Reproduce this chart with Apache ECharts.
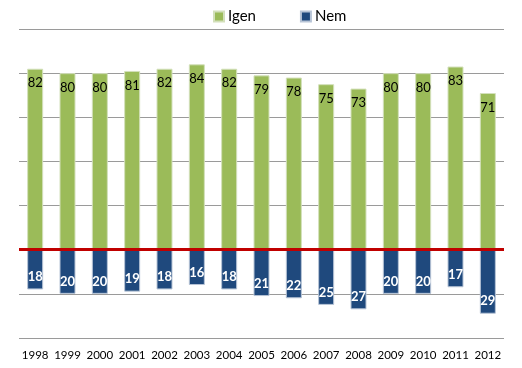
<!DOCTYPE html>
<html><head><meta charset="utf-8">
<script src="https://cdn.jsdelivr.net/npm/echarts@6/dist/echarts.min.js"></script>
<style>html,body{margin:0;padding:0;background:#fff}#c{width:522px;height:368px}</style>
</head><body><div id="c"></div>
<script>
const years = ['1998','1999','2000','2001','2002','2003','2004','2005','2006','2007','2008','2009','2010','2011','2012'];
const igen = [82,80,80,81,82,84,82,79,78,75,73,80,80,83,71];
const nem = [18,20,20,19,18,16,18,21,22,25,27,20,20,17,29];
const FONT = 'Lato';
const chart = echarts.init(document.getElementById('c'));
chart.setOption({
  animation:false,
  textStyle:{fontFamily:FONT},
  legend:{left:208, top:4, itemWidth:10, itemHeight:10, itemGap:44, icon:'rect',
    textStyle:{fontSize:15, color:'#000', fontFamily:FONT, padding:[0,0,0,-1]},
    data:['Igen','Nem']},
  grid:{left:19, right:18, top:29, bottom:30},
  xAxis:{type:'category', data:years, axisLine:{show:false}, axisTick:{show:false},
    axisLabel:{interval:0, fontSize:11.5, color:'#000', margin:11, fontFamily:FONT}},
  yAxis:{type:'value', min:-40, max:100, interval:20, axisLabel:{show:false},
    axisLine:{show:false}, axisTick:{show:false},
    splitLine:{lineStyle:{color:'#9a9a9a', width:1}}},
  series:[
    {name:'Igen', type:'bar', stack:'a', barWidth:16, data:igen,
     itemStyle:{color:'#9BBB59', borderColor:'#d3e0bb', borderWidth:1},
     label:{show:true, position:'insideTop', distance:8, fontSize:13, color:'#000', fontFamily:FONT},
     markLine:{silent:true, symbol:'none', label:{show:false},
       lineStyle:{color:'#C00000', width:3, type:'solid'}, data:[{yAxis:0}]}},
    {name:'Nem', type:'bar', stack:'a', barWidth:16, data:nem.map(v=>-v),
     itemStyle:{color:'#1F497D', borderColor:'#b7c4d6', borderWidth:1},
     label:{show:true, position:'insideBottom', distance:6, fontSize:13, color:'#fff', fontWeight:'bold', fontFamily:FONT,
       formatter:p=>Math.abs(p.value)}}
  ]
});
</script></body></html>
